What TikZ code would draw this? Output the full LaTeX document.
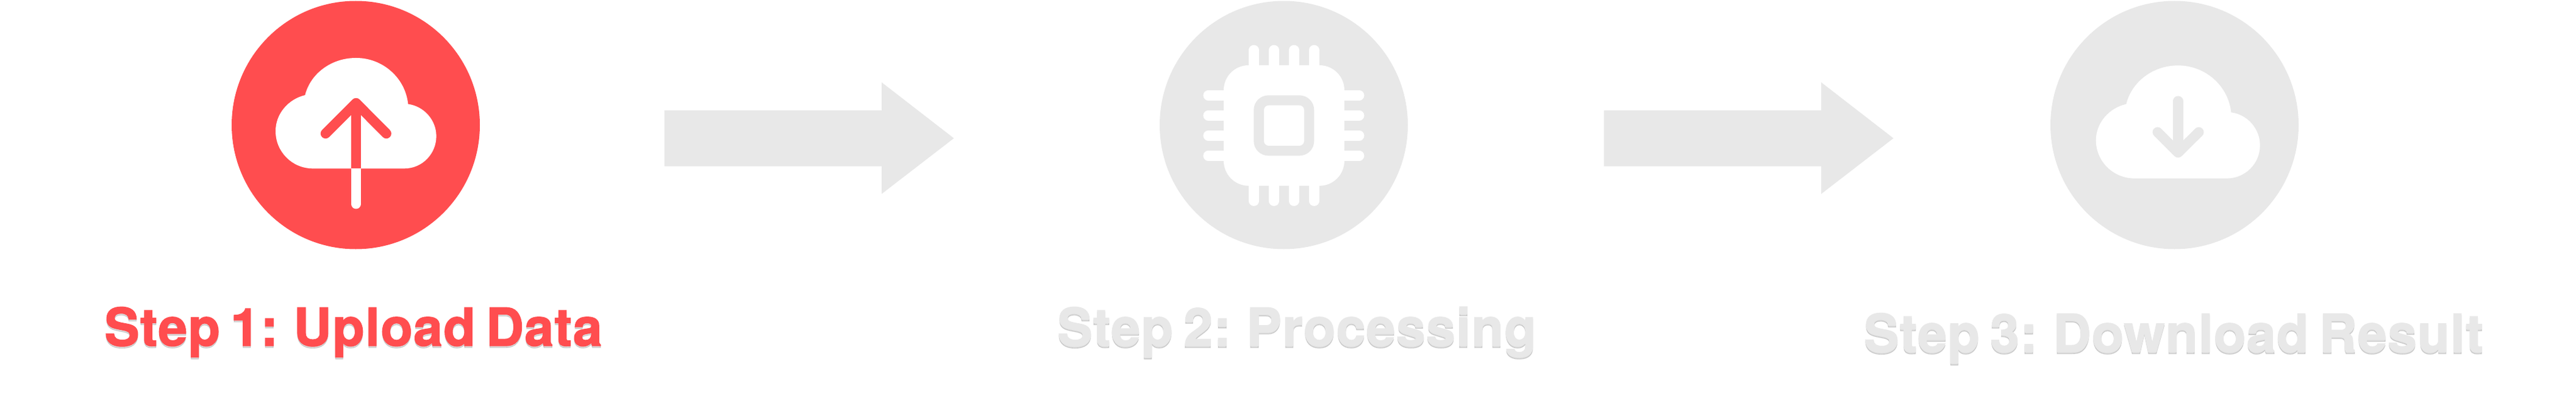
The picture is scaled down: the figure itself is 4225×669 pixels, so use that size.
\documentclass[tikz,border=0pt]{standalone}
\usepackage{fontspec}
\newfontfamily\labelfont[FakeBold=1.6,WordSpace=0.68,LetterSpace=1.5]{TeX Gyre Heros Bold}
\definecolor{activered}{HTML}{FF4D4F}
\definecolor{idlegrey}{HTML}{E8E8E8}
\tikzset{
  disc/.style={circle,fill=#1,draw=none,minimum size=407pt,inner sep=0pt},
  labeltext/.style={inner sep=0pt,anchor=base,font=\labelfont\fontsize{86}{90}\selectfont},
  blockarrow/.style={fill=idlegrey,draw=none},
  icon/.style={x=0.3333pt,y=-0.3333pt,xshift=#1},
  iconline/.style={line width=16.4pt,line cap=round,line join=round},
}
\newcommand{\steplabel}[5]{%
  \node[labeltext,text=black,text opacity=0.13] (#1-shadow) at (#2,{#3+3}) {#5};
  \node[labeltext,text=#4] (#1) at (#2,#3) {#5};
}
\begin{document}
\begin{tikzpicture}[x=1pt,y=-1pt]
\useasboundingbox (0,0) rectangle (4225,669);
% discs
\node[disc=activered] (upload) at (583.5,205) {};
\node[disc=idlegrey] (process) at (2105.5,205) {};
\node[disc=idlegrey] (download) at (3566.5,205) {};
% upload icon
\begin{scope}[icon=350pt]
  \draw[iconline,white] (702,829) -- (702,1003);
  \fill[white] (490,829) -- (940,829) .. controls (1027,829) and (1097,757) .. (1097,670)
    .. controls (1097,590) and (1035,522) .. (958,512)
    .. controls (945,385) and (835,285) .. (702,285)
    .. controls (580,285) and (478,362) .. (451,468)
    .. controls (368,488) and (306,560) .. (306,645)
    .. controls (306,747) and (388,829) .. (490,829) -- cycle;
  \draw[activered,line width=16.4pt] (702,829) -- (702,510);
  \draw[iconline,activered] (552,657) -- (702,507) -- (851,657);
\end{scope}
% chip icon
\begin{scope}[icon=1880pt]
  \foreach \p in {530,629,727,826}{
    \draw[iconline,white] (\p,246) -- (\p,989);
  }
  \foreach \p in {469,568,667,766}{
    \draw[iconline,white] (305,\p) -- (1048,\p);
  }
  \fill[white,rounded corners=41pt] (381,321) rectangle (975,914);
  \fill[idlegrey,rounded corners=24pt] (529,469) rectangle (826,766);
  \fill[white,rounded corners=8pt] (579,518) rectangle (777,717);
\end{scope}
% download icon
\begin{scope}[icon=3340pt]
  \fill[white] (485,878) -- (935,878) .. controls (1027,878) and (1100,805) .. (1100,715)
    .. controls (1100,632) and (1037,563) .. (958,553)
    .. controls (945,425) and (833,322) .. (697,322)
    .. controls (573,322) and (469,403) .. (442,512)
    .. controls (358,531) and (293,604) .. (293,690)
    .. controls (293,795) and (379,878) .. (485,878) -- cycle;
  \draw[idlegrey,line width=16.4pt,line cap=round] (697,497) -- (697,740);
  \draw[iconline,idlegrey] (596,650) -- (697,751) -- (799,650);
\end{scope}
% block arrows
\fill[blockarrow] (1089.5,181) -- (1446,181) -- (1446,135) -- (1564.5,226.7) -- (1446,318) -- (1446,272.7) -- (1089.5,272.7) -- cycle;
\fill[blockarrow] (2630.5,181) -- (2987,181) -- (2987,135) -- (3105.5,226.7) -- (2987,318) -- (2987,272.7) -- (2630.5,272.7) -- cycle;
% labels
\steplabel{lab1}{579.5}{567}{activered}{Step 1: Upload Data}
\steplabel{lab2}{2127}{567}{idlegrey}{Step 2: Processing}
\steplabel{lab3}{3565}{577}{idlegrey}{Step 3: Download Result}
\end{tikzpicture}
\end{document}
